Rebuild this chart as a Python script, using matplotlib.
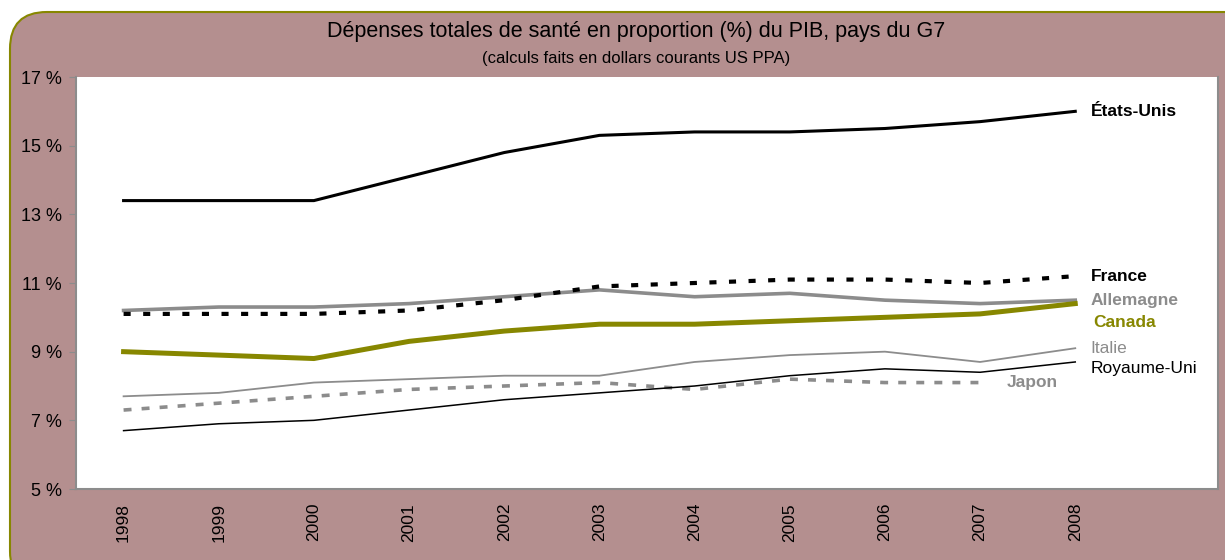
import matplotlib.pyplot as plt
from matplotlib.patches import FancyBboxPatch

plt.rcParams['font.family'] = ['Liberation Sans', 'DejaVu Sans']

years = ['1998', '1999', '2000', '2001', '2002', '2003', '2004', '2005', '2006', '2007', '2008']

etats_unis = [13.4, 13.4, 13.4, 14.1, 14.8, 15.3, 15.4, 15.4, 15.5, 15.7, 16.0]
france = [10.1, 10.1, 10.1, 10.2, 10.5, 10.9, 11.0, 11.1, 11.1, 11.0, 11.2]
allemagne = [10.2, 10.3, 10.3, 10.4, 10.6, 10.8, 10.6, 10.7, 10.5, 10.4, 10.5]
canada = [9.0, 8.9, 8.8, 9.3, 9.6, 9.8, 9.8, 9.9, 10.0, 10.1, 10.4]
italie = [7.7, 7.8, 8.1, 8.2, 8.3, 8.3, 8.7, 8.9, 9.0, 8.7, 9.1]
japon = [7.3, 7.5, 7.7, 7.9, 8.0, 8.1, 7.9, 8.2, 8.1, 8.1]
royaume_uni = [6.7, 6.9, 7.0, 7.3, 7.6, 7.8, 8.0, 8.3, 8.5, 8.4, 8.7]

olive = '#878700'
bg = '#b48f8f'

fig = plt.figure(figsize=(12.25, 5.6), dpi=100)
fig.patch.set_facecolor('white')

# cadre arrondi de fond
box = FancyBboxPatch((10 / 1225, -0.05), 1.2, 1.05 - 12 / 560,
                     boxstyle='round,pad=0,rounding_size=0.03',
                     transform=fig.transFigure, facecolor=bg,
                     edgecolor=olive, linewidth=1.5, zorder=-10,
                     mutation_aspect=1225 / 560)
fig.patches.append(box)

ax = fig.add_axes([76 / 1225, 1 - 489 / 560, (1218 - 76) / 1225, (489 - 77) / 560])
ax.set_zorder(5)
ax.set_facecolor('white')
x = list(range(len(years)))

ax.plot(x, etats_unis, color='black', lw=2.2, zorder=5)
ax.plot(x, royaume_uni, color='black', lw=1.1, zorder=4)
ax.plot(x, italie, color='#8c8c8c', lw=1.3, zorder=3)
ax.plot(x[:len(japon)], japon, color='#8c8c8c', lw=2.6, linestyle=(0, (2.2, 2.8)), zorder=3)
ax.plot(x, allemagne, color='#8c8c8c', lw=2.6, zorder=3)
ax.plot(x, canada, color=olive, lw=3.6, zorder=4)
ax.plot(x, france, color='black', lw=3.0, linestyle=(0, (1.7, 3.0)), zorder=5)

lab = dict(fontsize=12.5, va='center', ha='left')
ax.text(10.16, etats_unis[-1], 'États-Unis', color='black', fontweight='bold', **lab)
ax.text(10.16, 11.2, 'France', color='black', fontweight='bold', **lab)
ax.text(10.16, 10.5, 'Allemagne', color='#8c8c8c', fontweight='bold', **lab)
ax.text(10.19, 9.85, 'Canada', color=olive, fontweight='bold', **lab)
ax.text(10.16, 9.1, 'Italie', color='#8c8c8c', **lab)
ax.text(10.16, 8.5, 'Royaume-Uni', color='black', **lab)
ax.text(9.28, 8.1, 'Japon', color='#8c8c8c', fontweight='bold', **lab)

ax.set_xlim(-0.5, 11.5)
ax.set_ylim(5, 17)
ax.set_yticks([5, 7, 9, 11, 13, 15, 17])
ax.set_yticklabels([f'{v} %' for v in [5, 7, 9, 11, 13, 15, 17]], fontsize=13)
ax.set_xticks(x)
ax.set_xticklabels(years, rotation=90, fontsize=12.5)
ax.tick_params(axis='x', length=0, pad=10)
ax.tick_params(axis='y', length=5, color='#8c8c8c', pad=5)
for s in ax.spines.values():
    s.set_color('#8c8c8c')
    s.set_linewidth(1.5)
ax.spines['top'].set_visible(False)

fig.text(636 / 1225, 1 - 32 / 560, 'Dépenses totales de santé en proportion (%) du PIB, pays du G7',
         ha='center', va='center', fontsize=15.5)
fig.text(636 / 1225, 1 - 59 / 560, '(calculs faits en dollars courants US PPA)',
         ha='center', va='center', fontsize=12)

plt.savefig('out.png', dpi=100, facecolor=fig.get_facecolor())
